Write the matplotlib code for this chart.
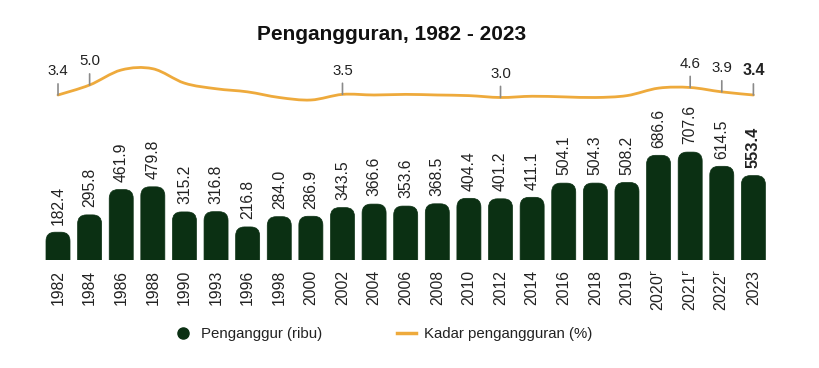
import matplotlib.pyplot as plt
import numpy as np
from matplotlib.patches import FancyBboxPatch
from matplotlib.path import Path
from matplotlib.patches import PathPatch
from matplotlib.lines import Line2D

#======================= Data ================================
years = ['1982', '1984', '1986', '1988', '1990', '1993', '1996', '1998', '2000',
         '2002', '2004', '2006', '2008', '2010', '2012', '2014', '2016', '2018',
         '2019', '2020$^{\\mathrm{r}}$', '2021$^{\\mathrm{r}}$', '2022$^{\\mathrm{r}}$', '2023']
penganggur = [182.4, 295.8, 461.9, 479.8, 315.2, 316.8, 216.8, 284.0, 286.9,
              343.5, 366.6, 353.6, 368.5, 404.4, 401.2, 411.1, 504.1, 504.3,
              508.2, 686.6, 707.6, 614.5, 553.4]
# rate (%), only some points are labelled on the chart, others estimated from the curve
kadar = [3.4, 5.0, 7.4, 7.6, 5.3, 4.4, 3.9, 3.0, 2.6,
         3.5, 3.4, 3.5, 3.4, 3.3, 3.0, 3.2, 3.1, 3.0,
         3.3, 4.5, 4.6, 3.9, 3.4]
kadar_labelled = [0, 1, 9, 14, 20, 21, 22]
#=============================================================

BAR_COLOR = '#0b3013'
LINE_COLOR = '#eeaa3c'
TEXT_COLOR = '#222222'
plt.rcParams['font.family'] = ['Liberation Sans', 'DejaVu Sans']

W, H = 819, 368
fig = plt.figure(figsize=(W / 100, H / 100), dpi=100)
fig.patch.set_facecolor('white')

n = len(years)
x = np.arange(n)
left = 42.2 / W
width = 727 / W

# bars
ax = fig.add_axes([left, 1 - 260 / H, width, 122 / H])
ax.set_xlim(-0.5, n - 0.5)
ax.set_ylim(0, 800)
ax.axis('off')

# aspect so that corner rounding is round in pixels
px_x = 727 / n          # pixels per x unit
px_y = 122 / 800        # pixels per y unit
aspect = px_x / px_y
bw = 0.76
r = 0.28
for i, v in enumerate(penganggur):
    box = FancyBboxPatch((i - bw / 2, -r * aspect), bw, v + r * aspect,
                         boxstyle='round,pad=0,rounding_size=%f' % r,
                         mutation_aspect=aspect, fc=BAR_COLOR, ec=BAR_COLOR,
                         lw=0.5, clip_on=True)
    ax.add_patch(box)
    bold = (i == n - 1)
    ax.annotate('%.1f' % v, (i, v), xytext=(0, 5.5), textcoords='offset points',
                rotation=90, ha='center', va='bottom',
                fontsize=11.8 if bold else 11.3,
                fontweight='bold' if bold else 'normal', color=TEXT_COLOR,
                annotation_clip=False)
    ax.annotate(years[i], (i, 0), xytext=(0, -7), textcoords='offset points',
                rotation=90, ha='center', va='top', fontsize=11.3, color=TEXT_COLOR,
                annotation_clip=False)

# line panel
lx = fig.add_axes([left, 1 - 110 / H, width, 55 / H])
lx.set_xlim(-0.5, n - 0.5)
lx.set_ylim(1.0, 9.8)
lx.axis('off')

# smooth curve through the points (catmull-rom as cubic bezier)
pts = np.column_stack([x, kadar]).astype(float)
verts = [tuple(pts[0])]
codes = [Path.MOVETO]
for i in range(n - 1):
    p0 = pts[max(i - 1, 0)]
    p1 = pts[i]
    p2 = pts[i + 1]
    p3 = pts[min(i + 2, n - 1)]
    c1 = p1 + (p2 - p0) / 6
    c2 = p2 - (p3 - p1) / 6
    verts += [tuple(c1), tuple(c2), tuple(p2)]
    codes += [Path.CURVE4] * 3
lx.add_patch(PathPatch(Path(verts, codes), fc='none', ec=LINE_COLOR, lw=2,
                       capstyle='round'))

for i in kadar_labelled:
    v = kadar[i]
    lx.annotate('', (i, v), xytext=(0, 8), textcoords='offset points',
                arrowprops=dict(arrowstyle='-', color='#8a8a8a', lw=1.2,
                                shrinkA=0, shrinkB=0), annotation_clip=False)
    bold = (i == n - 1)
    lx.annotate('%.1f' % v, (i, v), xytext=(0, 12), textcoords='offset points',
                ha='center', va='bottom', fontsize=11.5 if bold else 10.8,
                fontweight='bold' if bold else 'normal', color=TEXT_COLOR,
                annotation_clip=False)

fig.text(392 / W, 1 - 35 / H, 'Pengangguran, 1982 - 2023', ha='center',
         va='center', fontsize=15, fontweight='bold', color='#111111')

# legend
handles = [Line2D([], [], marker='o', ls='none', color=BAR_COLOR, markersize=8),
           Line2D([], [], color=LINE_COLOR, lw=2.5)]
fig.legend(handles, ['Penganggur (ribu)', 'Kadar pengangguran (%)'],
           loc='center', bbox_to_anchor=(383 / W, 1 - 334 / H), ncol=2,
           frameon=False, fontsize=10.8, handlelength=1.3, handletextpad=0.5,
           columnspacing=5.0, labelcolor=TEXT_COLOR)

fig.savefig('out.png', dpi=100, facecolor='white')
